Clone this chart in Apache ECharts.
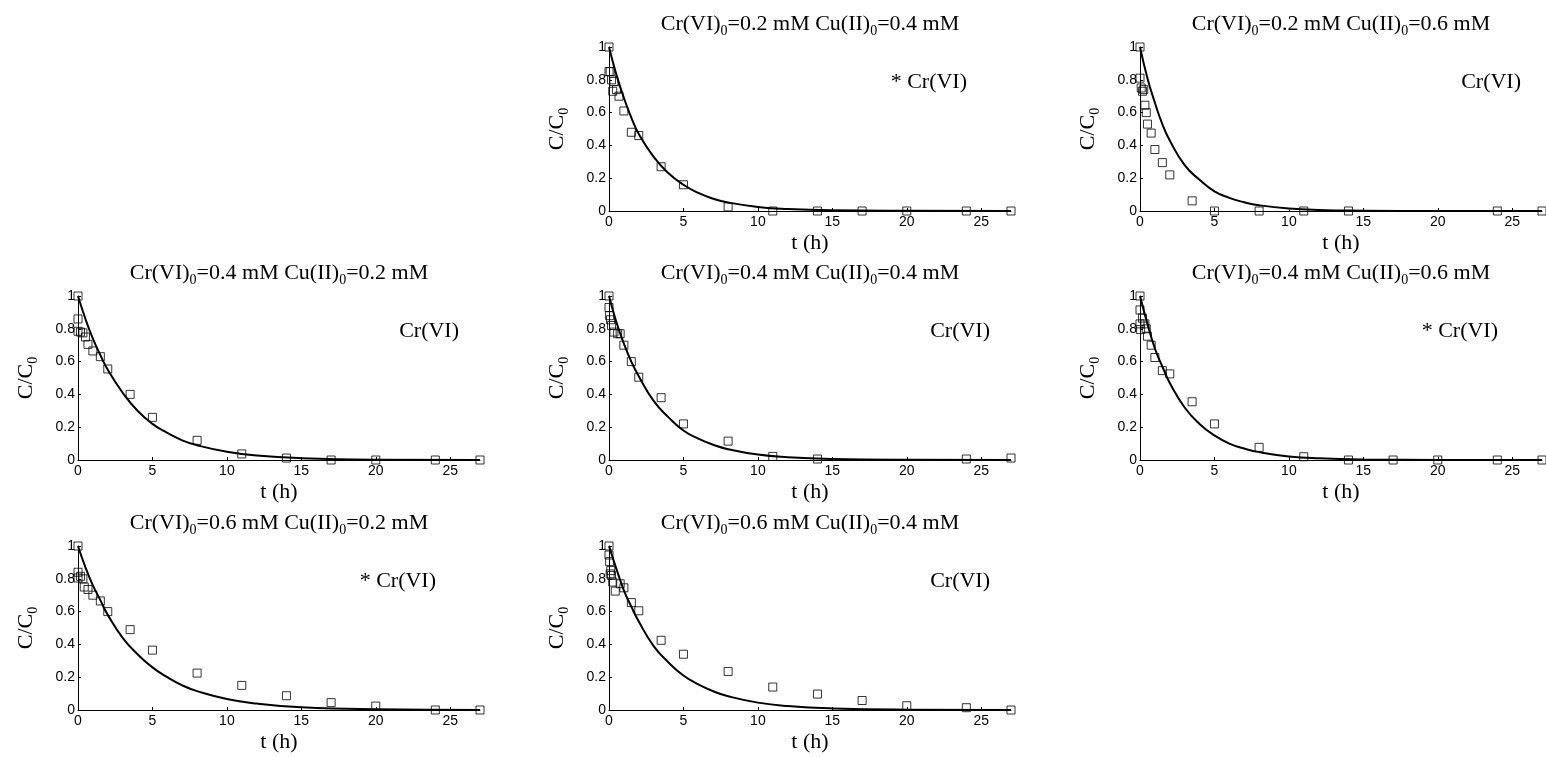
<!DOCTYPE html>
<html>
<head>
<meta charset="utf-8">
<script src="https://cdn.jsdelivr.net/npm/echarts@6/dist/echarts.min.js"></script>
<style>html,body{margin:0;padding:0;background:#fff;}#c{width:1546px;height:757px;}</style>
</head>
<body>
<div id="c"></div>
<script>
// ---- DATA ----
const crConc = ['0.2', '0.2', '0.4', '0.4', '0.4', '0.6', '0.6'];
const cuConc = ['0.4', '0.6', '0.2', '0.4', '0.6', '0.2', '0.4'];
const tagText = ['* Cr(VI)', 'Cr(VI)', 'Cr(VI)', 'Cr(VI)', '* Cr(VI)', '* Cr(VI)', 'Cr(VI)'];
const xTicks = [0, 5, 10, 15, 20, 25];
const yTicks = [0, 0.2, 0.4, 0.6, 0.8, 1];

// measured points
const t1 = [0, 0, 0.08, 0.17, 0.25, 0.33, 0.5, 0.67, 1, 1.5, 2, 3.5, 5, 8, 11, 14, 17, 20, 24, 27];
const c1 = [1, 0.85, 0.85, 0.80, 0.73, 0.79, 0.74, 0.70, 0.61, 0.48, 0.46, 0.27, 0.16, 0.025, 0, 0, 0, 0, 0, 0];
const t2 = [0, 0, 0.08, 0.17, 0.25, 0.33, 0.42, 0.5, 0.75, 1, 1.5, 2, 3.5, 5, 8, 11, 14, 24, 27];
const c2 = [1, 0.81, 0.75, 0.73, 0.74, 0.645, 0.60, 0.53, 0.475, 0.375, 0.295, 0.22, 0.062, 0, 0, 0, 0, 0, 0];
const t3 = [0, 0, 0, 0.17, 0.33, 0.5, 0.67, 1, 1.5, 2, 3.5, 5, 8, 11, 14, 17, 20, 24, 27];
const c3 = [1, 0.86, 0.785, 0.78, 0.775, 0.75, 0.705, 0.665, 0.63, 0.555, 0.40, 0.26, 0.12, 0.037, 0.012, 0, 0, 0, 0];
const t4 = [0, 0, 0.04, 0.1, 0.17, 0.33, 0.58, 0.75, 1, 1.5, 2, 3.5, 5, 8, 11, 14, 24, 27];
const c4 = [1, 0.93, 0.88, 0.855, 0.82, 0.78, 0.77, 0.77, 0.70, 0.60, 0.505, 0.38, 0.22, 0.115, 0.022, 0.006, 0.006, 0.012];
const t5 = [0, 0, 0, 0.04, 0.17, 0.33, 0.42, 0.5, 0.75, 1, 1.5, 2, 3.5, 5, 8, 11, 14, 17, 20, 24, 27];
const c5 = [1, 0.915, 0.83, 0.795, 0.865, 0.83, 0.80, 0.755, 0.70, 0.625, 0.545, 0.525, 0.355, 0.22, 0.077, 0.02, 0, 0, 0, 0, 0];
const t6 = [0, 0, 0, 0.17, 0.33, 0.42, 0.67, 1, 1.5, 2, 3.5, 5, 8, 11, 14, 17, 20, 24, 27];
const c6 = [1, 0.84, 0.805, 0.815, 0.80, 0.75, 0.735, 0.70, 0.665, 0.60, 0.49, 0.365, 0.225, 0.15, 0.087, 0.045, 0.024, 0, 0];
const t7 = [0, 0, 0.04, 0.08, 0.12, 0.17, 0.25, 0.42, 0.75, 1, 1.5, 2, 3.5, 5, 8, 11, 14, 17, 20, 24, 27];
const c7 = [1, 0.945, 0.905, 0.83, 0.85, 0.82, 0.78, 0.725, 0.77, 0.745, 0.655, 0.605, 0.425, 0.34, 0.235, 0.14, 0.097, 0.058, 0.026, 0.014, 0];

// model curves
const fitT = [0, 0.5, 1, 1.5, 2, 3, 4, 5, 6, 7, 8, 10, 12, 15, 20, 27];
const fit1 = [1, 0.83, 0.69, 0.57, 0.47, 0.33, 0.23, 0.16, 0.11, 0.075, 0.052, 0.025, 0.012, 0.004, 0.001, 0];
const fit2 = [1, 0.81, 0.66, 0.53, 0.43, 0.28, 0.19, 0.12, 0.08, 0.053, 0.035, 0.015, 0.006, 0.002, 0, 0];
const fit3 = [1, 0.86, 0.74, 0.64, 0.55, 0.41, 0.30, 0.22, 0.165, 0.12, 0.09, 0.05, 0.027, 0.011, 0.002, 0];
const fit4 = [1, 0.84, 0.71, 0.60, 0.51, 0.36, 0.26, 0.18, 0.13, 0.093, 0.066, 0.033, 0.017, 0.006, 0.001, 0];
const fit5 = [1, 0.83, 0.68, 0.57, 0.47, 0.32, 0.22, 0.15, 0.10, 0.07, 0.048, 0.022, 0.010, 0.003, 0.0005, 0];
const fit6 = [1, 0.87, 0.76, 0.67, 0.58, 0.44, 0.34, 0.26, 0.20, 0.15, 0.115, 0.067, 0.039, 0.017, 0.0045, 0];
const fit7 = [1, 0.86, 0.73, 0.63, 0.54, 0.39, 0.29, 0.21, 0.156, 0.114, 0.084, 0.045, 0.024, 0.0096, 0.002, 0];

// ---- LAYOUT ----
const colLeft = [78, 609, 1140];
const rowTop = [47, 296, 546];
const gridW = 402, gridH = 164;
const panelPos = [[1, 0], [2, 0], [0, 1], [1, 1], [2, 1], [0, 2], [1, 2]]; // [col,row]
const tagRight = [358, 381, 381, 381, 358, 358, 381];

const times = [t1, t2, t3, t4, t5, t6, t7];
const concs = [c1, c2, c3, c4, c5, c6, c7];
const fits = [fit1, fit2, fit3, fit4, fit5, fit6, fit7];

const serif = 'Liberation Serif';
const sans = 'Liberation Sans';
const richSub = {
  a: { fontFamily: serif, fontSize: 22, color: '#000' },
  s: { fontFamily: serif, fontSize: 14, color: '#000', padding: [14, 0, 0, 0] }
};

const grids = [], xAxes = [], yAxes = [], series = [], graphics = [];
panelPos.forEach((p, i) => {
  const left = colLeft[p[0]], top = rowTop[p[1]];
  grids.push({ left: left, top: top, width: gridW, height: gridH });
  xAxes.push({
    gridIndex: i, type: 'value', min: 0, max: 27, interval: 5,
    name: 't (h)', nameLocation: 'middle', nameGap: 21,
    nameTextStyle: { fontFamily: serif, fontSize: 22, color: '#000' },
    axisLine: { lineStyle: { color: '#000', width: 1 } },
    axisTick: { inside: true, length: 3, lineStyle: { color: '#000' } },
    axisLabel: { fontFamily: sans, fontSize: 14, color: '#000', margin: 4, showMaxLabel: false,
      formatter: v => (xTicks.indexOf(v) >= 0 ? String(v) : '') },
    splitLine: { show: false }
  });
  yAxes.push({
    gridIndex: i, type: 'value', min: 0, max: 1, interval: 0.2,
    name: '{a|C/C}{s|0}', nameLocation: 'middle', nameGap: 38, nameRotate: 90,
    nameTextStyle: { rich: richSub },
    axisLine: { lineStyle: { color: '#000', width: 1 } },
    axisTick: { inside: true, length: 3, lineStyle: { color: '#000' } },
    axisLabel: { fontFamily: sans, fontSize: 14, color: '#000', margin: 3,
      formatter: v => { const m = yTicks.find(y => Math.abs(y - v) < 1e-9); return m === undefined ? '' : String(m); } },
    splitLine: { show: false }
  });
  series.push({
    type: 'scatter', xAxisIndex: i, yAxisIndex: i, symbol: 'rect', symbolSize: 8,
    itemStyle: { color: 'rgba(255,255,255,0)', borderColor: '#000', borderWidth: 1 },
    data: times[i].map((t, k) => [t, concs[i][k]]), z: 3
  });
  series.push({
    type: 'line', xAxisIndex: i, yAxisIndex: i, showSymbol: false, smooth: 0.5,
    lineStyle: { color: '#000', width: 2 },
    data: fitT.map((t, k) => [t, fits[i][k]]), z: 4
  });
  graphics.push({
    type: 'text', x: left + gridW / 2, y: top - 23,
    style: {
      text: '{a|Cr(VI)}{s|0}{a|=' + crConc[i] + ' mM Cu(II)}{s|0}{a|=' + cuConc[i] + ' mM}',
      rich: richSub, align: 'center', verticalAlign: 'middle'
    }
  });
  graphics.push({
    type: 'text', x: left + tagRight[i], y: top + 35,
    style: { text: tagText[i], fontFamily: serif, fontSize: 22, fill: '#000', align: 'right', verticalAlign: 'middle' }
  });
});

const chart = echarts.init(document.getElementById('c'));
chart.setOption({
  animation: false,
  backgroundColor: '#fff',
  grid: grids, xAxis: xAxes, yAxis: yAxes, series: series, graphic: graphics
});
</script>
</body>
</html>
